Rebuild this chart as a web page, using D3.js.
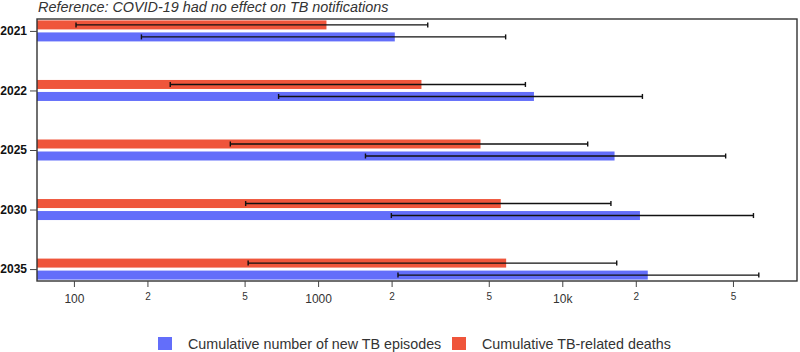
<!DOCTYPE html>
<html>
<head>
<meta charset="utf-8">
<script src="https://cdn.jsdelivr.net/npm/d3@7"></script>
<style>
  html, body { margin: 0; padding: 0; background: #fff; }
  svg { display: block; font-family: "Liberation Sans", Arial, sans-serif; }
</style>
</head>
<body>
<svg id="chart" width="800" height="352"></svg>
<script>
const categories = ["2021", "2022", "2025", "2030", "2035"];
const episodes = [2061, 7655, 16370, 20800, 22390];
const episodesLow = [189, 689, 1563, 1995, 2124];
const episodesHigh = [5862, 21290, 46670, 60660, 63800];
const deaths = [1082, 2650, 4624, 5598, 5890];
const deathsLow = [102, 248, 437, 505, 517];
const deathsHigh = [2812, 7063, 12710, 15820, 16710];
const tickValues = [100, 200, 500, 1000, 2000, 5000, 10000, 20000, 50000];
const tickLabels = ["100", "2", "5", "1000", "2", "5", "10k", "2", "5"];
const majorTicks = ["100", "1000", "10k"];
const titleText = "Reference: COVID-19 had no effect on TB notifications";
const legendLabels = ["Cumulative number of new TB episodes", "Cumulative TB-related deaths"];
const colors = { episodes: "#636efa", deaths: "#ef553b" };

const svg = d3.select("#chart");
const plot = { left: 37, right: 797, top: 19, bottom: 281 };

const x = d3.scaleLog().domain([70.6, 91460]).range([plot.left, plot.right]);
const y = d3.scalePoint().domain(categories).range([plot.top, plot.bottom]).padding(0.2);

const series = [
  { key: "deaths", values: deaths, low: deathsLow, high: deathsHigh, y0: -10.5, y1: -1.5, color: colors.deaths },
  { key: "episodes", values: episodes, low: episodesLow, high: episodesHigh, y0: 1.5, y1: 10.5, color: colors.episodes }
];

// bars
series.forEach(s => {
  svg.append("g").selectAll("rect").data(categories).join("rect")
    .attr("x", plot.left)
    .attr("y", (d) => y(d) + s.y0)
    .attr("width", (d, i) => x(s.values[i]) - plot.left)
    .attr("height", s.y1 - s.y0)
    .attr("fill", s.color);
});

// error bars
series.forEach(s => {
  const g = svg.append("g").attr("stroke", "#111").attr("stroke-width", 1.4);
  categories.forEach((c, i) => {
    const cy = y(c) + (s.y0 + s.y1) / 2;
    g.append("line").attr("x1", x(s.low[i])).attr("x2", x(s.high[i])).attr("y1", cy).attr("y2", cy);
    g.append("line").attr("x1", x(s.low[i])).attr("x2", x(s.low[i])).attr("y1", cy - 2.5).attr("y2", cy + 2.5);
    g.append("line").attr("x1", x(s.high[i])).attr("x2", x(s.high[i])).attr("y1", cy - 2.5).attr("y2", cy + 2.5);
  });
});

// frame
svg.append("rect")
  .attr("x", plot.left).attr("y", plot.top)
  .attr("width", plot.right - plot.left).attr("height", plot.bottom - plot.top)
  .attr("fill", "none").attr("stroke", "#333").attr("stroke-width", 1.4);

// x axis
const xAxis = d3.axisBottom(x).tickValues(tickValues).tickSize(6).tickPadding(7)
  .tickFormat((d, i) => tickLabels[i]);
const gx = svg.append("g").attr("transform", `translate(0,${plot.bottom})`).call(xAxis);
gx.select(".domain").remove();
gx.selectAll(".tick line").attr("stroke", "#444").attr("stroke-width", 1);
gx.selectAll(".tick text")
  .attr("fill", "#333")
  .attr("font-family", "Liberation Sans, Arial, sans-serif")
  .attr("font-size", (d, i) => majorTicks.includes(tickLabels[i]) ? 12 : 10)
  .attr("dy", (d, i) => majorTicks.includes(tickLabels[i]) ? "0.75em" : "0.55em");

// y axis
const yAxis = d3.axisLeft(y).tickSize(7).tickPadding(3);
const gy = svg.append("g").attr("transform", `translate(${plot.left},0)`).call(yAxis);
gy.select(".domain").remove();
gy.selectAll(".tick line").attr("stroke", "#444");
gy.selectAll(".tick text")
  .attr("fill", "#111")
  .attr("font-weight", "bold")
  .attr("font-size", 12)
  .attr("font-family", "Liberation Sans, Arial, sans-serif");

// title
svg.append("text")
  .attr("x", 38).attr("y", 11.5)
  .attr("font-style", "italic")
  .attr("font-size", 14.4)
  .attr("fill", "#333")
  .text(titleText);

// legend
const legendX = [158, 452];
const legendColors = [colors.episodes, colors.deaths];
legendLabels.forEach((lab, i) => {
  svg.append("rect").attr("x", legendX[i]).attr("y", 337).attr("width", 14).attr("height", 13)
    .attr("fill", legendColors[i]);
  svg.append("text").attr("x", legendX[i] + 30).attr("y", 348.5)
    .attr("font-size", 14.3).attr("fill", "#333").text(lab);
});
</script>
</body>
</html>
